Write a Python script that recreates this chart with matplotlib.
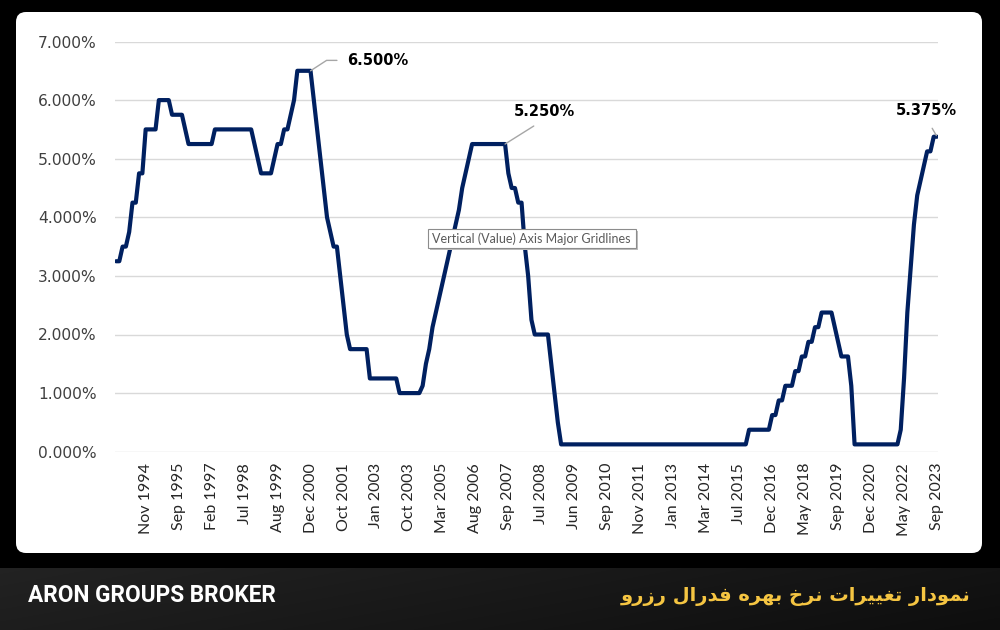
import numpy as np
import matplotlib
matplotlib.use("Agg")
import matplotlib.pyplot as plt
from matplotlib.patches import FancyBboxPatch, Rectangle

# ---------------- data ----------------
rates = [
    3.25, 3.25, 3.5, 3.5, 3.75, 4.25, 4.25, 4.75, 4.75, 5.5,
    5.5, 5.5, 5.5, 6.0, 6.0, 6.0, 6.0, 5.75, 5.75, 5.75,
    5.75, 5.5, 5.25, 5.25, 5.25, 5.25, 5.25, 5.25, 5.25, 5.25,
    5.5, 5.5, 5.5, 5.5, 5.5, 5.5, 5.5, 5.5, 5.5, 5.5,
    5.5, 5.5, 5.25, 5.0, 4.75, 4.75, 4.75, 4.75, 5.0, 5.25,
    5.25, 5.5, 5.5, 5.75, 6.0, 6.5, 6.5, 6.5, 6.5, 6.5,
    6.0, 5.5, 5.0, 4.5, 4.0, 3.75, 3.5, 3.5, 3.0, 2.5,
    2.0, 1.75, 1.75, 1.75, 1.75, 1.75, 1.75, 1.25, 1.25, 1.25,
    1.25, 1.25, 1.25, 1.25, 1.25, 1.25, 1.0, 1.0, 1.0, 1.0,
    1.0, 1.0, 1.0, 1.125, 1.5, 1.75, 2.125, 2.375, 2.625, 2.875,
    3.125, 3.375, 3.625, 3.875, 4.125, 4.5, 4.75, 5.0, 5.25, 5.25,
    5.25, 5.25, 5.25, 5.25, 5.25, 5.25, 5.25, 5.25, 5.25, 4.75,
    4.5, 4.5, 4.25, 4.25, 3.5, 3.0, 2.25, 2.0, 2.0, 2.0,
    2.0, 2.0, 1.5, 1.0, 0.5, 0.125, 0.125, 0.125, 0.125, 0.125,
    0.125, 0.125, 0.125, 0.125, 0.125, 0.125, 0.125, 0.125, 0.125, 0.125,
    0.125, 0.125, 0.125, 0.125, 0.125, 0.125, 0.125, 0.125, 0.125, 0.125,
    0.125, 0.125, 0.125, 0.125, 0.125, 0.125, 0.125, 0.125, 0.125, 0.125,
    0.125, 0.125, 0.125, 0.125, 0.125, 0.125, 0.125, 0.125, 0.125, 0.125,
    0.125, 0.125, 0.125, 0.125, 0.125, 0.125, 0.125, 0.125, 0.125, 0.125,
    0.125, 0.125, 0.375, 0.375, 0.375, 0.375, 0.375, 0.375, 0.375, 0.625,
    0.625, 0.875, 0.875, 1.125, 1.125, 1.125, 1.375, 1.375, 1.625, 1.625,
    1.875, 1.875, 2.125, 2.125, 2.375, 2.375, 2.375, 2.375, 2.125, 1.875,
    1.625, 1.625, 1.625, 1.125, 0.125, 0.125, 0.125, 0.125, 0.125, 0.125,
    0.125, 0.125, 0.125, 0.125, 0.125, 0.125, 0.125, 0.125, 0.375, 1.25,
    2.375, 3.125, 3.875, 4.375, 4.625, 4.875, 5.125, 5.125, 5.375, 5.375,
]

tick_labels = [
    "Nov 1994", "Sep 1995", "Feb 1997", "Jul 1998", "Aug 1999", "Dec 2000",
    "Oct 2001", "Jan 2003", "Oct 2003", "Mar 2005", "Aug 2006", "Sep 2007",
    "Jul 2008", "Jun 2009", "Sep 2010", "Nov 2011", "Jan 2013", "Mar 2014",
    "Jul 2015", "Dec 2016", "May 2018", "Sep 2019", "Dec 2020", "May 2022",
    "Sep 2023",
]
label_every = 10
first_label = 9

y_ticks = [0, 1, 2, 3, 4, 5, 6, 7]

TITLE_FA = "نمودار تغییرات نرخ بهره فدرال رزرو"
BRAND = "ARON GROUPS BROKER"
TOOLTIP = "Vertical (Value) Axis Major Gridlines"

# ---------------- helpers ----------------
# Arabic-script presentation forms: (isolated, final, initial, medial)
FORMS = {
    'ا': ('\uFE8D', '\uFE8E', None, None),
    'ب': ('\uFE8F', '\uFE90', '\uFE91', '\uFE92'),
    'ت': ('\uFE95', '\uFE96', '\uFE97', '\uFE98'),
    'خ': ('\uFEA5', '\uFEA6', '\uFEA7', '\uFEA8'),
    'د': ('\uFEA9', '\uFEAA', None, None),
    'ر': ('\uFEAD', '\uFEAE', None, None),
    'ز': ('\uFEAF', '\uFEB0', None, None),
    'غ': ('\uFECD', '\uFECE', '\uFECF', '\uFED0'),
    'ف': ('\uFED1', '\uFED2', '\uFED3', '\uFED4'),
    'ل': ('\uFEDD', '\uFEDE', '\uFEDF', '\uFEE0'),
    'م': ('\uFEE1', '\uFEE2', '\uFEE3', '\uFEE4'),
    'ن': ('\uFEE5', '\uFEE6', '\uFEE7', '\uFEE8'),
    'ه': ('\uFEE9', '\uFEEA', '\uFEEB', '\uFEEC'),
    'و': ('\uFEED', '\uFEEE', None, None),
    'ی': ('\uFBFC', '\uFBFD', '\uFBFE', '\uFBFF'),
}


def shape_rtl(text):
    out = []
    for i, ch in enumerate(text):
        if ch not in FORMS:
            out.append(ch)
            continue
        prev = text[i - 1] if i > 0 else None
        nxt = text[i + 1] if i + 1 < len(text) else None
        jp = prev in FORMS and FORMS[prev][2] is not None
        jn = FORMS[ch][2] is not None and nxt in FORMS
        iso, fin, ini, med = FORMS[ch]
        if jp and jn:
            out.append(med)
        elif jp:
            out.append(fin)
        elif jn:
            out.append(ini)
        else:
            out.append(iso)
    return ''.join(reversed(out))


# ---------------- figure ----------------
W, H = 1000, 630
fig = plt.figure(figsize=(W / 100, H / 100), dpi=100, facecolor="black")

# white rounded panel (behind everything)
panel = FancyBboxPatch((0.16, (H - 553) / 100), 9.66, 5.41,
                       boxstyle="round,pad=0,rounding_size=0.10",
                       transform=fig.dpi_scale_trans, fc="white", ec="none", zorder=-5)
fig.patches.append(panel)

# bottom banner with gradient
bax = fig.add_axes([0, 0, 1, 62 / H])
gx = np.linspace(0, 1, 300)
gy = np.linspace(0, 1, 40)
GX, GY = np.meshgrid(gx, gy)
grad = 0.125 - 0.06 * GX + 0.02 * (GY - 0.5)
bax.imshow(np.dstack([grad, grad, grad]), aspect="auto", extent=[0, 1, 0, 1],
           origin="lower", interpolation="bilinear")
bax.set_xlim(0, 1)
bax.set_ylim(0, 1)
bax.axis("off")

fig.text(28 / W, 1 - 596 / H, BRAND, color="white", fontsize=16.3,
         fontweight="bold", family="Roboto", va="center", ha="left")
fig.text(970 / W, 1 - 597 / H, shape_rtl(TITLE_FA), color="#F5C542",
         fontsize=14, fontweight="bold", family=["DejaVu Sans"],
         va="center", ha="right")

# main chart axes
ax = fig.add_axes([115 / W, 1 - 451.7 / H, 823 / W, (451.7 - 41.5) / H])
ax.set_facecolor("none")
ax.set_zorder(2)
x = np.arange(len(rates))
ax.plot(x, rates, color="#002060", lw=3.0, solid_joinstyle="round",
        solid_capstyle="round", zorder=3)

ax.set_xlim(-0.3, len(rates) - 1 + 0.3)
ax.set_ylim(y_ticks[0], y_ticks[-1])
ax.set_yticks(y_ticks)
ax.set_yticklabels([f"{v:.3f}%" for v in y_ticks], family="DejaVu Sans",
                   fontsize=11.2, color="#404040")
ax.set_xticks(list(range(first_label, len(rates), label_every)))
ax.set_xticklabels(tick_labels, rotation=90, family="Lato", fontsize=11.5,
                   color="#262626", va="top", ha="center")
ax.tick_params(axis="x", length=0, pad=8)
ax.tick_params(axis="y", length=0, pad=13)
ax.grid(axis="y", color="#d9d9d9", lw=1.0, zorder=0)
ax.set_axisbelow(True)
for s in ax.spines.values():
    s.set_visible(False)

# data labels with leader lines
lead = dict(arrowstyle="-", color="#a6a6a6", lw=1.0)
i_peak = 59
ax.annotate(f"{rates[i_peak]:.3f}%", xy=(i_peak, rates[i_peak]),
            xytext=(26.5, 7.5), textcoords="offset points",
            ha="left", va="center", fontsize=10.5, fontweight="bold",
            family="DejaVu Sans", color="black", annotation_clip=False,
            arrowprops=dict(lead, relpos=(0, 0.5), shrinkA=5.5, shrinkB=0,
                            connectionstyle="angle,angleA=0,angleB=33,rad=0"))
i_2 = 118
ax.annotate(f"{rates[i_2]:.3f}%", xy=(i_2, rates[i_2]),
            xytext=(28.5, 23.3), textcoords="offset points",
            ha="center", va="center", fontsize=10.5, fontweight="bold",
            family="DejaVu Sans", color="black", annotation_clip=False,
            arrowprops=dict(lead, relpos=(0.5, 0), shrinkA=5.5, shrinkB=0))
i_last = len(rates) - 1
ax.annotate(f"{rates[i_last]:.3f}%", xy=(i_last, rates[i_last]),
            xytext=(-7.6, 18.7), textcoords="offset points",
            ha="center", va="center", fontsize=10.5, fontweight="bold",
            family="DejaVu Sans", color="black", annotation_clip=False,
            arrowprops=dict(lead, relpos=(0.5, 0), shrinkA=6.0, shrinkB=1))

# Excel-style tooltip box
bx0, by0, bw, bh = 428, 229, 208, 19
fig.patches.append(Rectangle(((bx0 + 2) / W, 1 - (by0 + bh + 2) / H), bw / W, bh / H,
                             transform=fig.transFigure, fc="#bdbdbd", ec="none", zorder=5))
fig.patches.append(Rectangle((bx0 / W, 1 - (by0 + bh) / H), bw / W, bh / H,
                             transform=fig.transFigure, fc="white", ec="#8c8c8c",
                             lw=0.8, zorder=6))
fig.text((bx0 + 4) / W, 1 - (by0 + bh / 2 + 0.5) / H, TOOLTIP, fontsize=9,
         family="Lato", color="#5a5a5a", va="center", ha="left", zorder=7)

fig.savefig("out.png", dpi=100, facecolor="black")
